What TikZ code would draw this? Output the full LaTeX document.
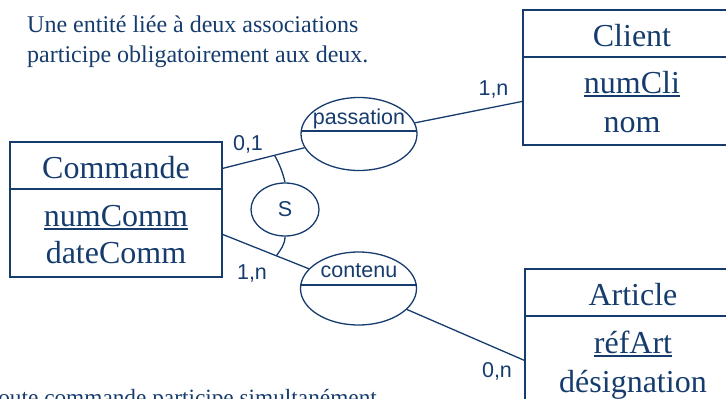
\documentclass[tikz,border=0pt]{standalone}
\usepackage{fontspec}
\setmainfont{Liberation Serif}
\newfontfamily\lsans{Liberation Sans}
\usetikzlibrary{shapes.geometric,calc}
\definecolor{navy}{RGB}{22,60,110}
\newcommand\ulk[1]{\setbox0\hbox{#1}\rlap{\rule[-3.5pt]{\wd0}{1.6pt}}\box0}
\begin{document}
\begin{tikzpicture}[x=1pt,y=-1pt,
 entity/.style={draw=navy,line width=1.2pt,rectangle,inner sep=0pt},
 assoc/.style={draw=navy,line width=1.3pt,ellipse,inner sep=0pt,minimum width=116pt,minimum height=73pt},
 ent/.style={text=navy,font=\fontsize{32}{38}\selectfont,anchor=base,inner sep=0pt},
 lab/.style={text=navy,font=\lsans\fontsize{21.5}{26}\selectfont,anchor=base,inner sep=0pt},
 note/.style={text=navy,font=\fontsize{24}{29.5}\selectfont,anchor=base west,inner sep=0pt},
 link/.style={draw=navy,line width=1.3pt},
 sep/.style={draw=navy,line width=2pt}]
\useasboundingbox (0,0) rectangle (726,399);

% notes
\node[note] (n1) at (27,32) {Une entité liée à deux associations};
\node[note] (n2) at (27,62) {participe obligatoirement aux deux.};
\node[note,font=\fontsize{23.3}{28}\selectfont] (n3) at (-14.5,405.5) {Toute commande participe simultanément};

% entities
\node[entity,minimum width=212pt,minimum height=135pt] (cmd) at (116,209.5) {};
\draw[sep] ($(cmd.north west)+(0,48)$) -- ($(cmd.north east)+(0,48)$);
\node[ent] (cmdT) at (116,178) {Commande};
\node[ent] (cmdK) at (116,226) {\ulk{numComm}};
\node[ent] (cmdA) at (116,263) {dateComm};

\node[entity,minimum width=218pt,minimum height=135pt] (cli) at (632,77.5) {};
\draw[sep] ($(cli.north west)+(0,48)$) -- ($(cli.north east)+(0,48)$);
\node[ent] (cliT) at (632,46) {Client};
\node[ent] (cliK) at (632,93) {\ulk{numCli}};
\node[ent] (cliA) at (632,132) {nom};

\node[entity,minimum width=216pt,minimum height=135pt] (art) at (633,336.5) {};
\draw[sep] ($(art.north west)+(0,48)$) -- ($(art.north east)+(0,48)$);
\node[ent] (artT) at (633,305) {Article};
\node[ent] (artK) at (633,353) {\ulk{réfArt}};
\node[ent] (artA) at (633,392) {désignation};

% associations
\node[assoc] (pass) at (359,134) {};
\draw[link] ($(pass.west)+(0.4,-3)$) -- ($(pass.east)+(-0.4,-3)$);
\node[lab] (passT) at (359,124) {passation};

\node[assoc] (cont) at (358.5,288.5) {};
\draw[link] ($(cont.west)+(0.4,-3.5)$) -- ($(cont.east)+(-0.4,-3.5)$);
\node[lab] (contT) at (359,277) {contenu};

\node[assoc,minimum width=68pt,minimum height=53pt,text=navy,font=\lsans\fontsize{21.5}{26}\selectfont] (sync) at (285,209.5) {S};

% connectors
\coordinate (pa) at ($(cmd.north east)+(0,27)$);
\coordinate (pc) at ($(cmd.north east)+(0,93)$);
\coordinate (pcli) at ($(cli.north west)+(0,92)$);
\coordinate (part) at ($(art.north west)+(0,92)$);
\draw[link] (pa) -- (pass);
\draw[link] (pass) -- (pcli);
\draw[link] (pc) -- (cont);
\draw[link] (cont) -- (part);

\coordinate (sa) at ($(pa)!0.38!(pass.center)$);
\coordinate (sb) at ($(pc)!0.396!(cont.center)$);
\draw[link] (sync.north) .. controls +(-1.5,-8) and +(4,6) .. (sa);
\draw[link] (sync.south) .. controls +(0,8) and +(4,-6) .. (sb);

% cardinalities
\node[lab] (k1) at (248,150) {0,1};
\node[lab] (k2) at (252,279) {1,n};
\node[lab] (k3) at (493.5,95) {1,n};
\node[lab] (k4) at (497,377) {0,n};
\end{tikzpicture}
\end{document}
